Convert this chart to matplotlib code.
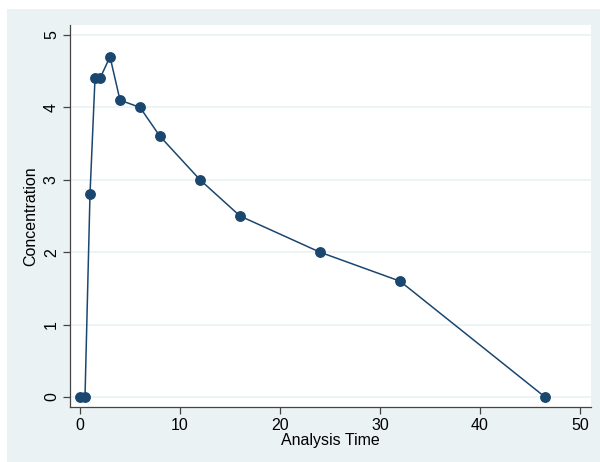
import matplotlib
matplotlib.use("Agg")
import matplotlib.pyplot as plt
from matplotlib.patches import Rectangle

time = [0, 0.5, 1, 1.5, 2, 3, 4, 6, 8, 12, 16, 24, 32, 46.5]
conc = [0, 0, 2.8, 4.4, 4.4, 4.7, 4.1, 4.0, 3.6, 3.0, 2.5, 2.0, 1.6, 0]
xticks = [0, 10, 20, 30, 40, 50]
yticks = [0, 1, 2, 3, 4, 5]

plt.rcParams['font.family'] = ['Liberation Sans', 'DejaVu Sans']

W, H = 600, 462
fig = plt.figure(figsize=(W/100, H/100), dpi=100, facecolor='white')
bg = '#eaf2f3'
fig.patches.append(Rectangle((7/W, 0), 1 - 7/W, 1 - 9/H, transform=fig.transFigure,
                             facecolor=bg, edgecolor='none', zorder=-10))

ax = fig.add_axes([70/W, 1 - 407/H, (591-70)/W, (407-25)/H])
ax.set_facecolor('white')
ax.plot(time, conc, color='#1a476f', lw=1.1, marker='o', ms=6.8,
        markerfacecolor='#1a476f', markeredgecolor='#1a476f', clip_on=False, zorder=3)

ax.set_xlim(-1, 51.1)
ax.set_ylim(-0.138, 5.138)
ax.set_xticks(xticks)
ax.set_yticks(yticks)
ax.grid(axis='y', color=bg, lw=1.2)
ax.set_axisbelow(True)
for s in ['top', 'right']:
    ax.spines[s].set_visible(False)
for s in ['left', 'bottom']:
    ax.spines[s].set_color('#444444')
    ax.spines[s].set_linewidth(0.9)
ax.tick_params(direction='out', length=5, width=0.9, color='#444444', labelsize=11.5, pad=3)
for lab in ax.get_yticklabels():
    lab.set_rotation(90)
    lab.set_va('center')
ax.set_xlabel('Analysis Time', fontsize=11.5, labelpad=0)
ax.set_ylabel('Concentration', fontsize=11.5, labelpad=4)

fig.savefig('out.png', dpi=100, facecolor='white')
